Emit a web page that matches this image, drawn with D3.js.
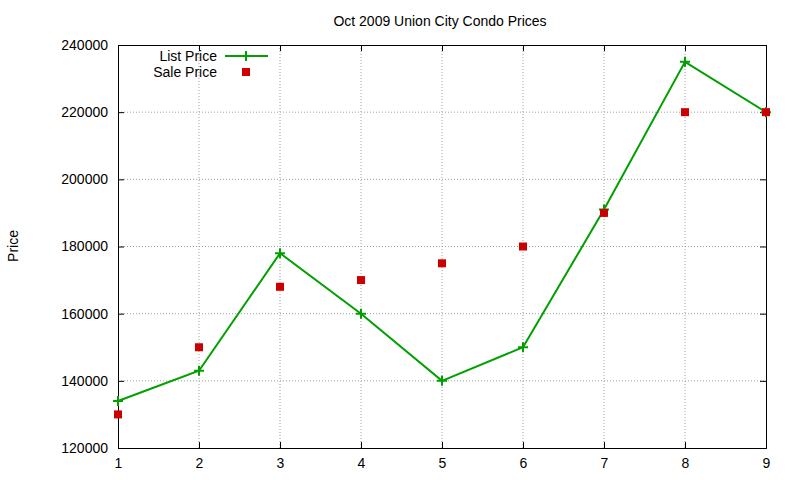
<!DOCTYPE html>
<html><head><meta charset="utf-8">
<script src="https://cdn.jsdelivr.net/npm/d3@7"></script>
<style>body{margin:0;background:#fff}text{font-family:"Liberation Sans",Arial,sans-serif;}</style>
</head><body><div id="chart"></div>
<script>
var units = [1,2,3,4,5,6,7,8,9]
var listPrice = [134000,143000,178000,160000,140000,150000,191000,235000,220000]
var salePrice = [130000,150000,168000,170000,175000,180000,190000,220000,220000]
var yTicks = [120000,140000,160000,180000,200000,220000,240000]

var width = 800, height = 480
var plotLeft = 118, plotRight = 766, plotTop = 45, plotBottom = 448

var svg = d3.select("#chart").append("svg").attr("width", width).attr("height", height)

var xscale = d3.scaleLinear().domain([1,9]).range([plotLeft,plotRight])
var yscale = d3.scaleLinear().domain([120000,240000]).range([plotBottom,plotTop])

// grid
svg.append("g").selectAll("line").data(units.slice(1,-1)).enter().append("line")
  .attr("x1", d=>xscale(d)).attr("x2", d=>xscale(d)).attr("y1", plotTop).attr("y2", plotBottom)
  .attr("stroke","#a0a0a0").attr("stroke-dasharray","1,2")
svg.append("g").selectAll("line").data(yTicks.slice(1,-1)).enter().append("line")
  .attr("x1", plotLeft).attr("x2", plotRight).attr("y1", d=>yscale(d)).attr("y2", d=>yscale(d))
  .attr("stroke","#a0a0a0").attr("stroke-dasharray","1,2")

// axes with inward ticks, mirrored
svg.append("g").attr("transform","translate(0,"+plotBottom+")")
  .call(d3.axisBottom(xscale).tickValues(units).tickSize(-6).tickPadding(10).tickFormat(d3.format("d")))
svg.append("g").attr("transform","translate(0,"+plotTop+")")
  .call(d3.axisTop(xscale).tickValues(units).tickSize(-6).tickFormat(""))
svg.append("g").attr("transform","translate("+plotLeft+",0)")
  .call(d3.axisLeft(yscale).tickValues(yTicks).tickSize(-6).tickPadding(10).tickFormat(d3.format("d")))
svg.append("g").attr("transform","translate("+plotRight+",0)")
  .call(d3.axisRight(yscale).tickValues(yTicks).tickSize(-6).tickFormat(""))
svg.selectAll(".domain").attr("stroke","#000")
svg.selectAll(".tick text").attr("font-size",14).attr("fill","#000").style("font-family","'Liberation Sans',Arial,sans-serif")

svg.append("text").attr("x",440).attr("y",26).attr("text-anchor","middle")
  .attr("font-size",14).text("Oct 2009 Union City Condo Prices")
svg.append("text").attr("transform","translate(18,246) rotate(-90)").attr("text-anchor","middle")
  .attr("font-size",14).text("Price")

// list price line
var line = d3.line().x((d,i)=>xscale(units[i])).y(d=>yscale(d))
svg.append("path").datum(listPrice).attr("d", line).attr("fill","none").attr("stroke","#00a000").attr("stroke-width",2)
function plus(g, x, y){
  g.append("path").attr("d","M"+(x-5)+","+y+"h10M"+x+","+(y-5)+"v10").attr("stroke","#00a000").attr("stroke-width",2)
}
var pg = svg.append("g")
listPrice.forEach((d,i)=>plus(pg, xscale(units[i]), yscale(d)))

// sale price squares
svg.append("g").selectAll("rect").data(salePrice).enter().append("rect")
  .attr("x",(d,i)=>xscale(units[i])-4).attr("y",d=>yscale(d)-4).attr("width",8).attr("height",8).attr("fill","#cc0000")

// legend
svg.append("text").attr("x",217).attr("y",61).attr("text-anchor","end").attr("font-size",14).text("List Price")
svg.append("line").attr("x1",225).attr("x2",268).attr("y1",56).attr("y2",56).attr("stroke","#00a000").attr("stroke-width",2)
plus(svg, 246, 56)
svg.append("text").attr("x",217).attr("y",77).attr("text-anchor","end").attr("font-size",14).text("Sale Price")
svg.append("rect").attr("x",242).attr("y",68).attr("width",8).attr("height",8).attr("fill","#cc0000")
</script></body></html>
